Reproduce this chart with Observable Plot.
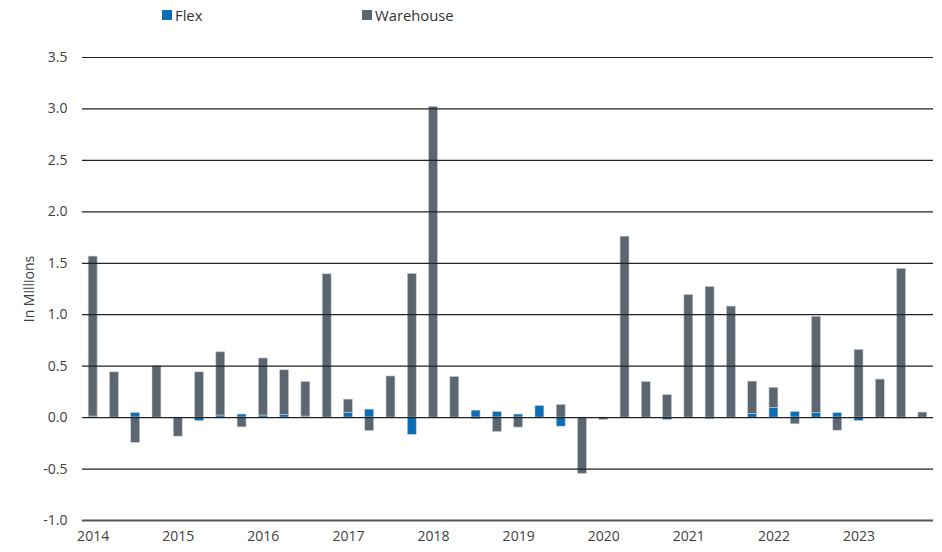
<!DOCTYPE html>
<html><head><meta charset="utf-8">
<script src="https://cdn.jsdelivr.net/npm/d3@7"></script>
<script src="https://cdn.jsdelivr.net/npm/@observablehq/plot@0.6"></script>
<style>
body{margin:0;background:#fff;font-family:"Open Sans",sans-serif}
#wrap{position:relative;width:942px;height:552px;overflow:hidden}
.lg{position:absolute;top:5px;font-size:14.8px;color:#333;display:flex;align-items:center;line-height:20px}
.sw{width:10px;height:10px;margin-right:3px;display:inline-block}
#chart{position:absolute;top:30px;left:0}
</style></head><body>
<div id="wrap">
  <div class="lg" style="left:162px"><span class="sw" style="background:#0B6DB5"></span>Flex</div>
  <div class="lg" style="left:362px"><span class="sw" style="background:#5B6670"></span>Warehouse</div>
  <div id="chart"></div>
</div>
<script>
const years = ["2014","2015","2016","2017","2018","2019","2020","2021","2022","2023"];
const quarters = years.flatMap(y => ["Q1","Q2","Q3","Q4"].map(q => y + " " + q));
const flex = [0.01,0,0.045,0, 0,-0.035,0.02,0.03, 0.02,0.025,0.01,0, 0.045,0.078,0,-0.168,
  0,0,0.068,0.055, 0.03,0.113,-0.088,0, 0,0,0,-0.023, 0,-0.016,0,0.035,
  0.094,0.055,0.045,0.045, -0.035,0,-0.01,0];
const warehouse = [1.555,0.44,-0.245,0.50, -0.185,0.44,0.615,-0.095, 0.555,0.435,0.337,1.393, 0.13,-0.13,0.40,1.396,
  3.02,0.395,-0.016,-0.14, -0.097,0,0.123,-0.547, -0.023,1.759,0.347,0.22, 1.192,1.27,1.079,0.315,
  0.196,-0.065,0.935,-0.127, 0.658,0.37,1.445,0.049];
const seriesNames = ["Flex","Warehouse"];
const seriesColors = ["#0B6DB5","#5B6670"];
const yTicks = [-1,-0.5,0,0.5,1,1.5,2,2.5,3,3.5];

const rows = [
  ...quarters.map((q,i) => ({q, series:"Flex", value: flex[i]})),
  ...quarters.map((q,i) => ({q, series:"Warehouse", value: warehouse[i]}))
];

const chart = Plot.plot({
  width: 942,
  height: 522,
  marginTop: 27,
  marginBottom: 32,
  marginLeft: 82,
  marginRight: 9,
  style: {fontFamily: '"Open Sans", sans-serif', fontSize: "14px", color: "#404040", background: "white"},
  x: {domain: quarters, paddingInner: 0.58, paddingOuter: 0.29, round: false, label: null},
  y: {domain: [-1, 3.5], label: null},
  color: {domain: seriesNames, range: seriesColors},
  marks: [
    Plot.barY(rows, {x: "q", y: "value", fill: "series", stroke: "#c9ced3", strokeWidth: 0.6}),
    Plot.ruleY(yTicks.filter(d => d > -1), {stroke: "#222", strokeWidth: 1.2}),
    Plot.ruleY([-1], {stroke: "#555", strokeWidth: 2}),
    Plot.axisY({ticks: yTicks, tickSize: 0, tickPadding: 15, tickFormat: d => d.toFixed(1),
      label: "In Millions", labelAnchor: "center", labelArrow: "none", labelOffset: 58, fontSize: 14}),
    Plot.axisX({tickSize: 0, tickPadding: 11, tickFormat: d => d.endsWith("Q1") ? d.slice(0,4) : "", label: null, fontSize: 14})
  ]
});
document.getElementById("chart").appendChild(chart);
</script>
</body></html>
